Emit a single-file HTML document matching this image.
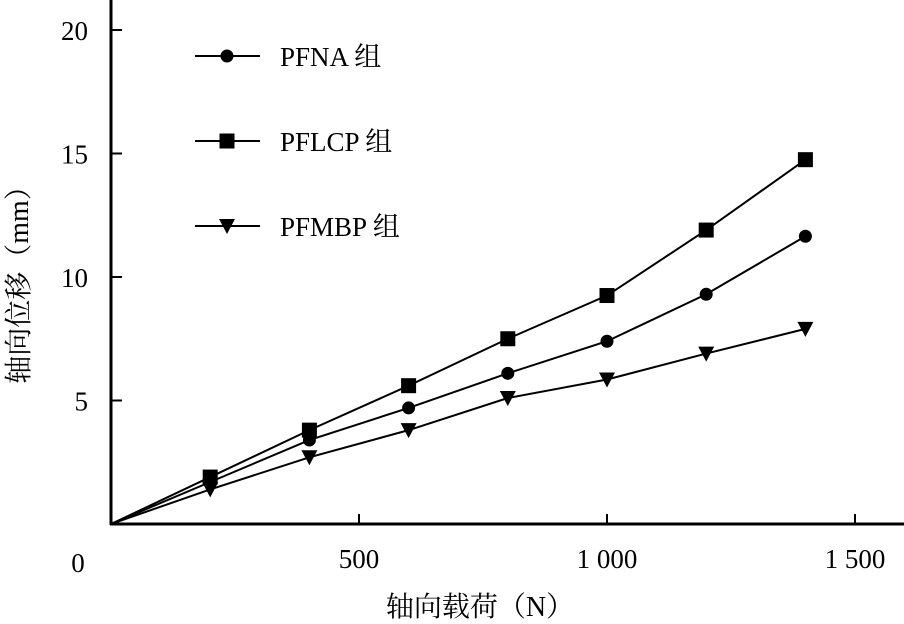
<!DOCTYPE html>
<html><head><meta charset="utf-8"><style>
body{margin:0;background:#fff}
svg{display:block;font-family:"Liberation Serif","Noto Serif CJK SC",serif}
</style></head><body>
<svg id="chart" width="904" height="624" viewBox="0 0 904 624"></svg>
<script>
const xValues=[0,200,400,600,800,1000,1200,1400];
const seriesNames=["PFNA 组","PFLCP 组","PFMBP 组"];
const pfna=[0,1.7,3.4,4.7,6.1,7.4,9.3,11.65];
const pflcp=[0,1.9,3.8,5.6,7.5,9.25,11.9,14.75];
const pfmbp=[0,1.4,2.7,3.8,5.1,5.85,6.9,7.9];
const xTicks=[500,1000,1500];
const xTickLabels=["500","1 000","1 500"];
const yTicks=[5,10,15,20];
const yTickLabels=["5","10","15","20"];
const svg=document.getElementById('chart');
const NS='http://www.w3.org/2000/svg';
const X=v=>111+v*(248/500);
const Y=v=>524-v*(494/20);
function mk(t,a,txt){const e=document.createElementNS(NS,t);for(const k in a)e.setAttribute(k,a[k]);if(txt!=null)e.textContent=txt;svg.appendChild(e);return e;}
let e;
e=mk('line',{x1:111,y1:0,x2:111,y2:525,stroke:'#000','stroke-width':3});


e=mk('line',{x1:110,y1:524,x2:904,y2:524,stroke:'#000','stroke-width':3});


yTicks.forEach((t,i)=>{
 e=mk('line',{x1:111,y1:Y(t),x2:122,y2:Y(t),stroke:'#000','stroke-width':2});
 
 
 e=mk('text',{x:88,y:Y(t)+10,'font-size':27,'text-anchor':'end'},yTickLabels[i]);
 
 
});
xTicks.forEach((t,i)=>{
 e=mk('line',{x1:X(t),y1:524,x2:X(t),y2:514,stroke:'#000','stroke-width':2});
 
 
 e=mk('text',{x:X(t),y:568,'font-size':27,'text-anchor':'middle'},xTickLabels[i]);
 
 
});
e=mk('text',{x:78,y:572,'font-size':27,'text-anchor':'middle'},'0');


e=mk('text',{x:480,y:616,'font-size':28,'text-anchor':'middle'},'轴向载荷（N）');


e=mk('text',{x:0,y:0,'font-size':28,'text-anchor':'middle',transform:'translate(28,278) rotate(-90)'},'轴向位移（mm）');


function marker(shape,cx,cy){
 if(shape==='circle')return mk('circle',{cx:cx,cy:cy,r:6.5,fill:'#000'});
 if(shape==='square')return mk('rect',{x:cx-7.5,y:cy-7.5,width:15,height:15,fill:'#000'});
 return mk('polygon',{points:`${cx-8},${cy-7} ${cx+8},${cy-7} ${cx},${cy+8}`,fill:'#000'});
}
const all=[pfna,pflcp,pfmbp];const shapes=['circle','square','tri'];
const keys=['pfna','pflcp','pfmbp'];
all.forEach((s,si)=>{
 e=mk('polyline',{points:s.map((v,i)=>X(xValues[i])+','+Y(v)).join(' '),fill:'none',stroke:'#000','stroke-width':2});
 
 
 s.forEach((v,i)=>{if(i===0)return;
  e=marker(shapes[si],X(xValues[i]),Y(v));
  
  
 });
 const ly=[56,141,226][si];
 e=mk('line',{x1:195,y1:ly,x2:260,y2:ly,stroke:'#000','stroke-width':2});
 
 
 e=marker(shapes[si],227,ly);
 
 
 e=mk('text',{x:280,y:ly+10,'font-size':27},seriesNames[si]);
 
 
});
</script>
</body></html>
